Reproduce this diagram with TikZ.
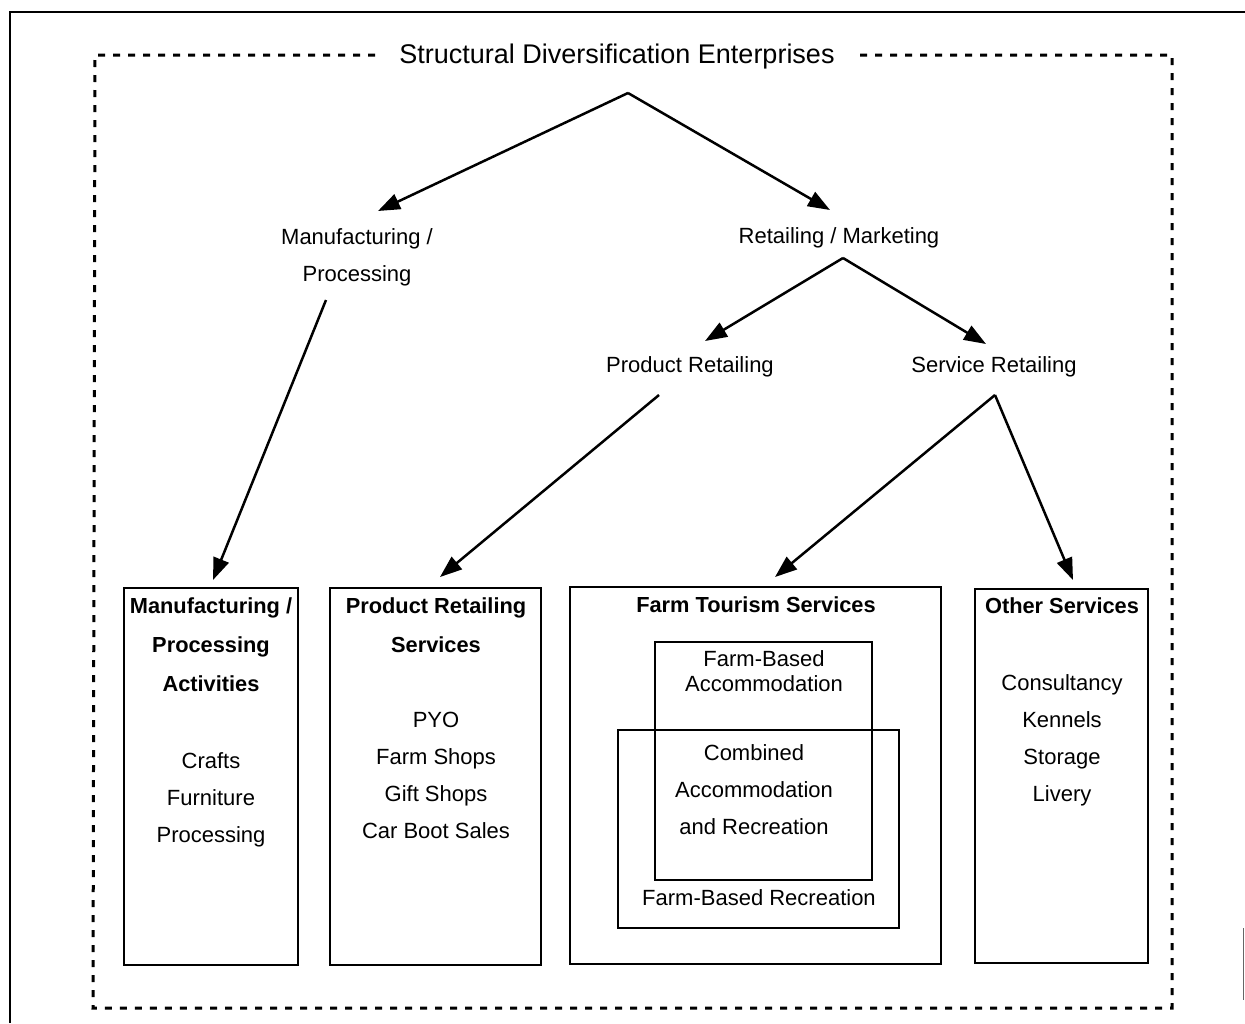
\documentclass[tikz,border=0pt]{standalone}
\usepackage{fontspec}
\setmainfont{Liberation Sans}
\usetikzlibrary{arrows.meta}
\tikzset{
  lbl/.style={inner sep=0pt, align=center, font=\fontsize{22}{37}\selectfont},
  hdr/.style={inner sep=0pt, align=center, font=\fontsize{21.8}{39}\selectfont\bfseries},
  box/.style={draw, line width=2.1pt, inner sep=0pt},
  arr/.style={line width=2.5pt, -{Triangle[length=22pt,width=16pt]}},
  dotframe/.style={line width=3pt, dash pattern=on 7pt off 8pt},
}
\begin{document}
\begin{tikzpicture}[x=1pt,y=-1pt]
\useasboundingbox (0,0) rectangle (1245,1023);
% scanned outer frame
\draw[line width=2.5pt] (10,1023) -- (10,12) -- (1245,12);
\draw[line width=1pt, black!60] (1243,928) -- (1243,1000);
% dotted frame with title
\node[inner sep=0pt, font=\fontsize{27}{30}\selectfont] (title) at (617,57) {Structural Diversification Enterprises};
\draw[dotframe] (375,55) -- (95,55) -- (93,1008) -- (1172,1008) -- (1172,55) -- (858,55);
% upper labels
\node[lbl] (mp) at (357,257) {Manufacturing /\\Processing};
\node[lbl] (rm) at (839,237.5) {Retailing / Marketing};
\node[lbl] (pr) at (690,366.5) {Product Retailing};
\node[lbl] (sr) at (994,366.5) {Service Retailing};
% apex / end coordinates
\coordinate (a0) at (628,93);
\coordinate (a1) at (843,258);
\coordinate (a2) at (326,300);
\coordinate (a3) at (659,395);
\coordinate (a4) at (995,395);
\coordinate (t1) at (378,211);
\coordinate (t2) at (830,210);
\coordinate (t3) at (705,341);
\coordinate (t4) at (986,344);
\coordinate (t5) at (213,580);
\coordinate (t6) at (440,577);
\coordinate (t7) at (775,577);
\coordinate (t8) at (1073,580);
% boxes
\node[box, minimum width=174pt, minimum height=377pt] (b1) at (211,776.5) {};
\node[box, minimum width=211pt, minimum height=377pt] (b2) at (435.5,776.5) {};
\node[box, minimum width=371pt, minimum height=377pt] (b3) at (755.5,775.5) {};
\node[box, minimum width=173pt, minimum height=374pt] (b4) at (1061.5,776) {};
\node[box, minimum width=217pt, minimum height=238pt] (ia) at (763.5,761) {};
\node[box, minimum width=281pt, minimum height=198pt] (ib) at (758.5,829) {};
% box texts
\node[hdr, anchor=north] (h1) at (211,597) {Manufacturing /\\Processing\\Activities};
\node[lbl, anchor=north] (l1) at (211,752) {Crafts\\Furniture\\Processing};
\node[hdr, anchor=north] (h2) at (436,597) {Product Retailing\\Services};
\node[lbl, anchor=north] (l2) at (436,712) {PYO\\Farm Shops\\Gift Shops\\Car Boot Sales};
\node[hdr, anchor=north] (h3) at (756,596) {Farm Tourism Services};
\node[inner sep=0pt, align=center, font=\fontsize{22}{25}\selectfont, anchor=north] (la) at (764,650) {Farm-Based\\Accommodation};
\node[lbl, anchor=north] (lc) at (754,744) {Combined\\Accommodation\\and Recreation};
\node[lbl] (lb) at (759,897.5) {Farm-Based Recreation};
\node[hdr, anchor=north] (h4) at (1062,597) {Other Services};
\node[lbl, anchor=north] (l4) at (1062,674) {Consultancy\\Kennels\\Storage\\Livery};
% connectors
\draw[arr] (a0) -- (t1);
\draw[arr] (a0) -- (t2);
\draw[arr] (a1) -- (t3);
\draw[arr] (a1) -- (t4);
\draw[arr] (a2) -- (t5);
\draw[arr] (a3) -- (t6);
\draw[arr] (a4) -- (t7);
\draw[arr] (a4) -- (t8);
\end{tikzpicture}
\end{document}
